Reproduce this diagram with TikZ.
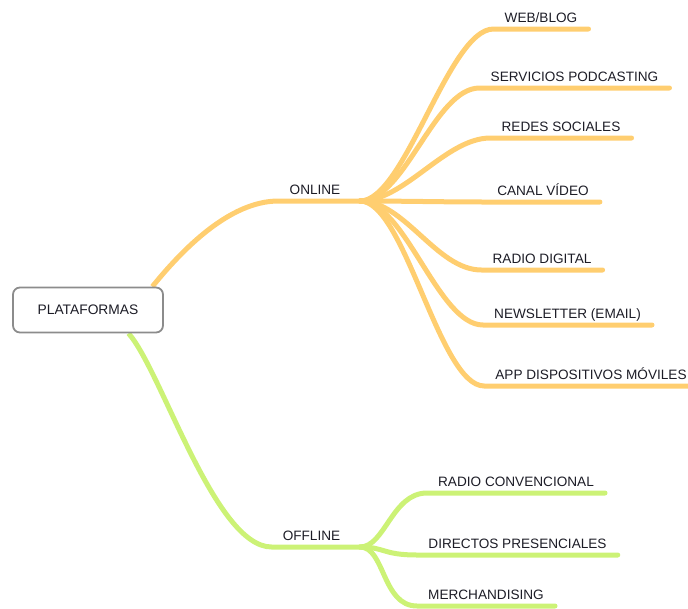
\documentclass[tikz,border=0pt]{standalone}
\usepackage{fontspec}
\setmainfont{Liberation Sans}
\usetikzlibrary{backgrounds}
\definecolor{onlinecol}{RGB}{255,206,112}
\definecolor{offlinecol}{RGB}{204,242,118}
\definecolor{ink}{RGB}{28,28,38}
\begin{document}
\begin{tikzpicture}[x=1pt, y=-1pt,
    leaf/.style={anchor=south, inner xsep=11pt, inner ysep=6pt, text depth=0pt,
        text=ink, font=\fontsize{13.6}{16}\selectfont},
    onbranch/.style={line width=5pt, color=onlinecol, line cap=round},
    offbranch/.style={line width=5pt, color=offlinecol, line cap=round}]
    \useasboundingbox (0,0) rectangle (688,608);

    % Root
    \node [draw=black!45, line width=1.8pt, rounded corners=7pt, fill=white,
        minimum width=150pt, minimum height=45pt, text=ink,
        font=\fontsize{13.8}{16}\selectfont] (root) at (88,310) {PLATAFORMAS};

    % Main topics
    \node [leaf] (online) at (315,201) {ONLINE};
    \node [leaf] (offline) at (311.5,547) {OFFLINE};
    \coordinate (onhub) at (360,201);
    \coordinate (offhub) at (360,547);

    % Online subtopics
    \node [leaf] (web) at (541,29) {WEB/BLOG};
    \node [leaf] (podcast) at (574.5,88) {SERVICIOS PODCASTING};
    \node [leaf] (redes) at (561,138) {REDES SOCIALES};
    \node [leaf] (video) at (543,202) {CANAL VÍDEO};
    \node [leaf] (radiodig) at (542,270) {RADIO DIGITAL};
    \node [leaf] (newsletter) at (567.5,325) {NEWSLETTER (EMAIL)};
    \node [leaf] (app) at (591,386) {APP DISPOSITIVOS MÓVILES};

    % Offline subtopics
    \node [leaf] (radioconv) at (516,493) {RADIO CONVENCIONAL};
    \node [leaf] (directos) at (517.5,555) {DIRECTOS PRESENCIALES};
    \node [leaf] (merch) at (486,606) {MERCHANDISING};

    % Branches from the root
    \begin{scope}[on background layer]
        \draw [onbranch, line cap=butt] (root.20) .. controls +(30,-37) and +(-49,0) .. (online.south west) -- (onhub);
        \draw [offbranch, line cap=butt] (root.-30) .. controls +(33,37) and +(-57,0) .. (offline.south west) -- (offhub);
    \end{scope}

    % Online branches
    \draw [onbranch] (onhub) .. controls +(45,0) and +(-45,0) .. (web.south west) -- (web.south east);
    \draw [onbranch] (onhub) .. controls +(45,0) and +(-45,0) .. (podcast.south west) -- (podcast.south east);
    \draw [onbranch] (onhub) .. controls +(45,0) and +(-45,0) .. (redes.south west) -- (redes.south east);
    \draw [onbranch] (onhub) .. controls +(45,0) and +(-45,0) .. (video.south west) -- (video.south east);
    \draw [onbranch] (onhub) .. controls +(45,0) and +(-45,0) .. (radiodig.south west) -- (radiodig.south east);
    \draw [onbranch] (onhub) .. controls +(45,0) and +(-45,0) .. (newsletter.south west) -- (newsletter.south east);
    \draw [onbranch] (onhub) .. controls +(45,0) and +(-45,0) .. (app.south west) -- (app.south east);

    % Offline branches
    \draw [offbranch] (offhub) .. controls +(25,0) and +(-35,0) .. (radioconv.south west) -- (radioconv.south east);
    \draw [offbranch] (offhub) .. controls +(25,0) and +(-35,0) .. (directos.south west) -- (directos.south east);
    \draw [offbranch] (offhub) .. controls +(25,0) and +(-35,0) .. (merch.south west) -- (merch.south east);
\end{tikzpicture}
\end{document}
